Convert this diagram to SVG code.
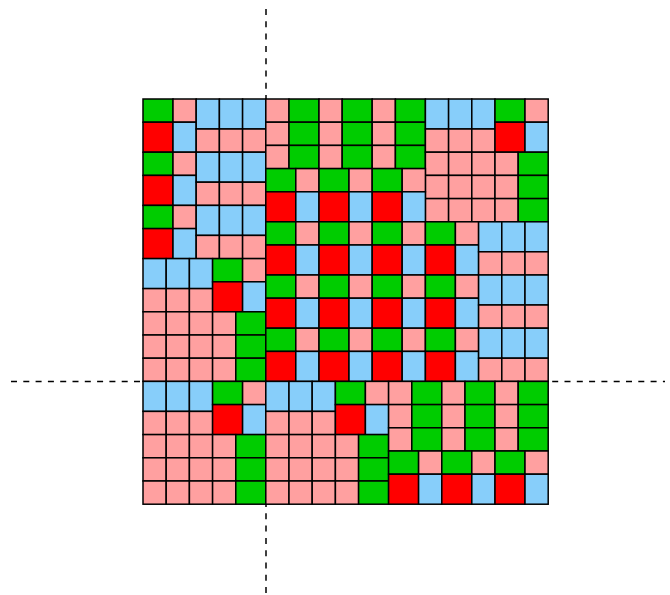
<svg xmlns="http://www.w3.org/2000/svg" xmlns:xlink="http://www.w3.org/1999/xlink" width="670" height="595" viewBox="0 0 670 595">
<style>
.axis{stroke:#000;stroke-width:1.5;stroke-dasharray:6,6.3;fill:none}
</style>
<defs>
<rect id="G" width="30" height="23.2" fill="#00cc00" stroke="#000" stroke-width="1.5"/>
<rect id="R" width="30" height="30" fill="#ff0000" stroke="#000" stroke-width="1.5"/>
<rect id="P" width="23.2" height="23.2" fill="#ffa0a0" stroke="#000" stroke-width="1.5"/>
<rect id="B" width="23.2" height="30" fill="#87cefa" stroke="#000" stroke-width="1.5"/>
</defs>
<rect width="670" height="595" fill="#fff"/>
<g id="connectors">
<line class="axis" x1="266" y1="9" x2="266" y2="595"/>
<line class="axis" x1="11" y1="381.4" x2="665" y2="381.4"/>
</g>
<g id="top-left">
<use href="#G" x="143" y="99"/><use href="#P" x="173" y="99"/>
<use href="#R" x="143" y="122.2"/><use href="#B" x="173" y="122.2"/>
<use href="#G" x="143" y="152.2"/><use href="#P" x="173" y="152.2"/>
<use href="#R" x="143" y="175.4"/><use href="#B" x="173" y="175.4"/>
<use href="#G" x="143" y="205.4"/><use href="#P" x="173" y="205.4"/>
<use href="#R" x="143" y="228.6"/><use href="#B" x="173" y="228.6"/>
<use href="#B" x="196.2" y="99"/><use href="#B" x="219.4" y="99"/><use href="#B" x="242.6" y="99"/>
<use href="#P" x="196.2" y="129"/><use href="#P" x="219.4" y="129"/><use href="#P" x="242.6" y="129"/>
<use href="#B" x="196.2" y="152.2"/><use href="#B" x="219.4" y="152.2"/><use href="#B" x="242.6" y="152.2"/>
<use href="#P" x="196.2" y="182.2"/><use href="#P" x="219.4" y="182.2"/><use href="#P" x="242.6" y="182.2"/>
<use href="#B" x="196.2" y="205.4"/><use href="#B" x="219.4" y="205.4"/><use href="#B" x="242.6" y="205.4"/>
<use href="#P" x="196.2" y="235.4"/><use href="#P" x="219.4" y="235.4"/><use href="#P" x="242.6" y="235.4"/>
<use href="#B" x="143" y="258.6"/><use href="#B" x="166.2" y="258.6"/><use href="#B" x="189.4" y="258.6"/>
<use href="#P" x="143" y="288.6"/><use href="#P" x="166.2" y="288.6"/><use href="#P" x="189.4" y="288.6"/>
<use href="#G" x="212.6" y="258.6"/><use href="#P" x="242.6" y="258.6"/>
<use href="#R" x="212.6" y="281.8"/><use href="#B" x="242.6" y="281.8"/>
<use href="#P" x="143" y="311.8"/><use href="#P" x="166.2" y="311.8"/><use href="#P" x="189.4" y="311.8"/><use href="#P" x="212.6" y="311.8"/><use href="#G" x="235.8" y="311.8"/>
<use href="#P" x="143" y="335"/><use href="#P" x="166.2" y="335"/><use href="#P" x="189.4" y="335"/><use href="#P" x="212.6" y="335"/><use href="#G" x="235.8" y="335"/>
<use href="#P" x="143" y="358.2"/><use href="#P" x="166.2" y="358.2"/><use href="#P" x="189.4" y="358.2"/><use href="#P" x="212.6" y="358.2"/><use href="#G" x="235.8" y="358.2"/>
</g>
<g id="top-right">
<use href="#P" x="265.8" y="99"/><use href="#G" x="289" y="99"/><use href="#P" x="319" y="99"/><use href="#G" x="342.2" y="99"/><use href="#P" x="372.2" y="99"/><use href="#G" x="395.4" y="99"/>
<use href="#P" x="265.8" y="122.2"/><use href="#G" x="289" y="122.2"/><use href="#P" x="319" y="122.2"/><use href="#G" x="342.2" y="122.2"/><use href="#P" x="372.2" y="122.2"/><use href="#G" x="395.4" y="122.2"/>
<use href="#P" x="265.8" y="145.4"/><use href="#G" x="289" y="145.4"/><use href="#P" x="319" y="145.4"/><use href="#G" x="342.2" y="145.4"/><use href="#P" x="372.2" y="145.4"/><use href="#G" x="395.4" y="145.4"/>
<use href="#B" x="425.4" y="99"/><use href="#B" x="448.6" y="99"/><use href="#B" x="471.8" y="99"/>
<use href="#P" x="425.4" y="129"/><use href="#P" x="448.6" y="129"/><use href="#P" x="471.8" y="129"/>
<use href="#G" x="495" y="99"/><use href="#P" x="525" y="99"/>
<use href="#R" x="495" y="122.2"/><use href="#B" x="525" y="122.2"/>
<use href="#P" x="425.4" y="152.2"/><use href="#P" x="448.6" y="152.2"/><use href="#P" x="471.8" y="152.2"/><use href="#P" x="495" y="152.2"/><use href="#G" x="518.2" y="152.2"/>
<use href="#P" x="425.4" y="175.4"/><use href="#P" x="448.6" y="175.4"/><use href="#P" x="471.8" y="175.4"/><use href="#P" x="495" y="175.4"/><use href="#G" x="518.2" y="175.4"/>
<use href="#P" x="425.4" y="198.6"/><use href="#P" x="448.6" y="198.6"/><use href="#P" x="471.8" y="198.6"/><use href="#P" x="495" y="198.6"/><use href="#G" x="518.2" y="198.6"/>
<use href="#G" x="265.8" y="168.6"/><use href="#P" x="295.8" y="168.6"/><use href="#G" x="319" y="168.6"/><use href="#P" x="349" y="168.6"/><use href="#G" x="372.2" y="168.6"/><use href="#P" x="402.2" y="168.6"/>
<use href="#R" x="265.8" y="191.8"/><use href="#B" x="295.8" y="191.8"/><use href="#R" x="319" y="191.8"/><use href="#B" x="349" y="191.8"/><use href="#R" x="372.2" y="191.8"/><use href="#B" x="402.2" y="191.8"/>
<use href="#G" x="265.8" y="221.8"/><use href="#P" x="295.8" y="221.8"/><use href="#G" x="319" y="221.8"/><use href="#P" x="349" y="221.8"/><use href="#G" x="372.2" y="221.8"/><use href="#P" x="402.2" y="221.8"/><use href="#G" x="425.4" y="221.8"/><use href="#P" x="455.4" y="221.8"/>
<use href="#R" x="265.8" y="245"/><use href="#B" x="295.8" y="245"/><use href="#R" x="319" y="245"/><use href="#B" x="349" y="245"/><use href="#R" x="372.2" y="245"/><use href="#B" x="402.2" y="245"/><use href="#R" x="425.4" y="245"/><use href="#B" x="455.4" y="245"/>
<use href="#G" x="265.8" y="275"/><use href="#P" x="295.8" y="275"/><use href="#G" x="319" y="275"/><use href="#P" x="349" y="275"/><use href="#G" x="372.2" y="275"/><use href="#P" x="402.2" y="275"/><use href="#G" x="425.4" y="275"/><use href="#P" x="455.4" y="275"/>
<use href="#R" x="265.8" y="298.2"/><use href="#B" x="295.8" y="298.2"/><use href="#R" x="319" y="298.2"/><use href="#B" x="349" y="298.2"/><use href="#R" x="372.2" y="298.2"/><use href="#B" x="402.2" y="298.2"/><use href="#R" x="425.4" y="298.2"/><use href="#B" x="455.4" y="298.2"/>
<use href="#G" x="265.8" y="328.2"/><use href="#P" x="295.8" y="328.2"/><use href="#G" x="319" y="328.2"/><use href="#P" x="349" y="328.2"/><use href="#G" x="372.2" y="328.2"/><use href="#P" x="402.2" y="328.2"/><use href="#G" x="425.4" y="328.2"/><use href="#P" x="455.4" y="328.2"/>
<use href="#R" x="265.8" y="351.4"/><use href="#B" x="295.8" y="351.4"/><use href="#R" x="319" y="351.4"/><use href="#B" x="349" y="351.4"/><use href="#R" x="372.2" y="351.4"/><use href="#B" x="402.2" y="351.4"/><use href="#R" x="425.4" y="351.4"/><use href="#B" x="455.4" y="351.4"/>
<use href="#B" x="478.6" y="221.8"/><use href="#B" x="501.8" y="221.8"/><use href="#B" x="525" y="221.8"/>
<use href="#P" x="478.6" y="251.8"/><use href="#P" x="501.8" y="251.8"/><use href="#P" x="525" y="251.8"/>
<use href="#B" x="478.6" y="275"/><use href="#B" x="501.8" y="275"/><use href="#B" x="525" y="275"/>
<use href="#P" x="478.6" y="305"/><use href="#P" x="501.8" y="305"/><use href="#P" x="525" y="305"/>
<use href="#B" x="478.6" y="328.2"/><use href="#B" x="501.8" y="328.2"/><use href="#B" x="525" y="328.2"/>
<use href="#P" x="478.6" y="358.2"/><use href="#P" x="501.8" y="358.2"/><use href="#P" x="525" y="358.2"/>
</g>
<g id="bottom-left">
<use href="#B" x="143" y="381.4"/><use href="#B" x="166.2" y="381.4"/><use href="#B" x="189.4" y="381.4"/>
<use href="#P" x="143" y="411.4"/><use href="#P" x="166.2" y="411.4"/><use href="#P" x="189.4" y="411.4"/>
<use href="#G" x="212.6" y="381.4"/><use href="#P" x="242.6" y="381.4"/>
<use href="#R" x="212.6" y="404.6"/><use href="#B" x="242.6" y="404.6"/>
<use href="#P" x="143" y="434.6"/><use href="#P" x="166.2" y="434.6"/><use href="#P" x="189.4" y="434.6"/><use href="#P" x="212.6" y="434.6"/><use href="#G" x="235.8" y="434.6"/>
<use href="#P" x="143" y="457.8"/><use href="#P" x="166.2" y="457.8"/><use href="#P" x="189.4" y="457.8"/><use href="#P" x="212.6" y="457.8"/><use href="#G" x="235.8" y="457.8"/>
<use href="#P" x="143" y="481"/><use href="#P" x="166.2" y="481"/><use href="#P" x="189.4" y="481"/><use href="#P" x="212.6" y="481"/><use href="#G" x="235.8" y="481"/>
</g>
<g id="bottom-right">
<use href="#B" x="265.8" y="381.4"/><use href="#B" x="289" y="381.4"/><use href="#B" x="312.2" y="381.4"/>
<use href="#P" x="265.8" y="411.4"/><use href="#P" x="289" y="411.4"/><use href="#P" x="312.2" y="411.4"/>
<use href="#G" x="335.4" y="381.4"/><use href="#P" x="365.4" y="381.4"/>
<use href="#R" x="335.4" y="404.6"/><use href="#B" x="365.4" y="404.6"/>
<use href="#P" x="265.8" y="434.6"/><use href="#P" x="289" y="434.6"/><use href="#P" x="312.2" y="434.6"/><use href="#P" x="335.4" y="434.6"/><use href="#G" x="358.6" y="434.6"/>
<use href="#P" x="265.8" y="457.8"/><use href="#P" x="289" y="457.8"/><use href="#P" x="312.2" y="457.8"/><use href="#P" x="335.4" y="457.8"/><use href="#G" x="358.6" y="457.8"/>
<use href="#P" x="265.8" y="481"/><use href="#P" x="289" y="481"/><use href="#P" x="312.2" y="481"/><use href="#P" x="335.4" y="481"/><use href="#G" x="358.6" y="481"/>
<use href="#P" x="388.6" y="381.4"/><use href="#G" x="411.8" y="381.4"/><use href="#P" x="441.8" y="381.4"/><use href="#G" x="465" y="381.4"/><use href="#P" x="495" y="381.4"/><use href="#G" x="518.2" y="381.4"/>
<use href="#P" x="388.6" y="404.6"/><use href="#G" x="411.8" y="404.6"/><use href="#P" x="441.8" y="404.6"/><use href="#G" x="465" y="404.6"/><use href="#P" x="495" y="404.6"/><use href="#G" x="518.2" y="404.6"/>
<use href="#P" x="388.6" y="427.8"/><use href="#G" x="411.8" y="427.8"/><use href="#P" x="441.8" y="427.8"/><use href="#G" x="465" y="427.8"/><use href="#P" x="495" y="427.8"/><use href="#G" x="518.2" y="427.8"/>
<use href="#G" x="388.6" y="451"/><use href="#P" x="418.6" y="451"/><use href="#G" x="441.8" y="451"/><use href="#P" x="471.8" y="451"/><use href="#G" x="495" y="451"/><use href="#P" x="525" y="451"/>
<use href="#R" x="388.6" y="474.2"/><use href="#B" x="418.6" y="474.2"/><use href="#R" x="441.8" y="474.2"/><use href="#B" x="471.8" y="474.2"/><use href="#R" x="495" y="474.2"/><use href="#B" x="525" y="474.2"/>
</g>
</svg>
